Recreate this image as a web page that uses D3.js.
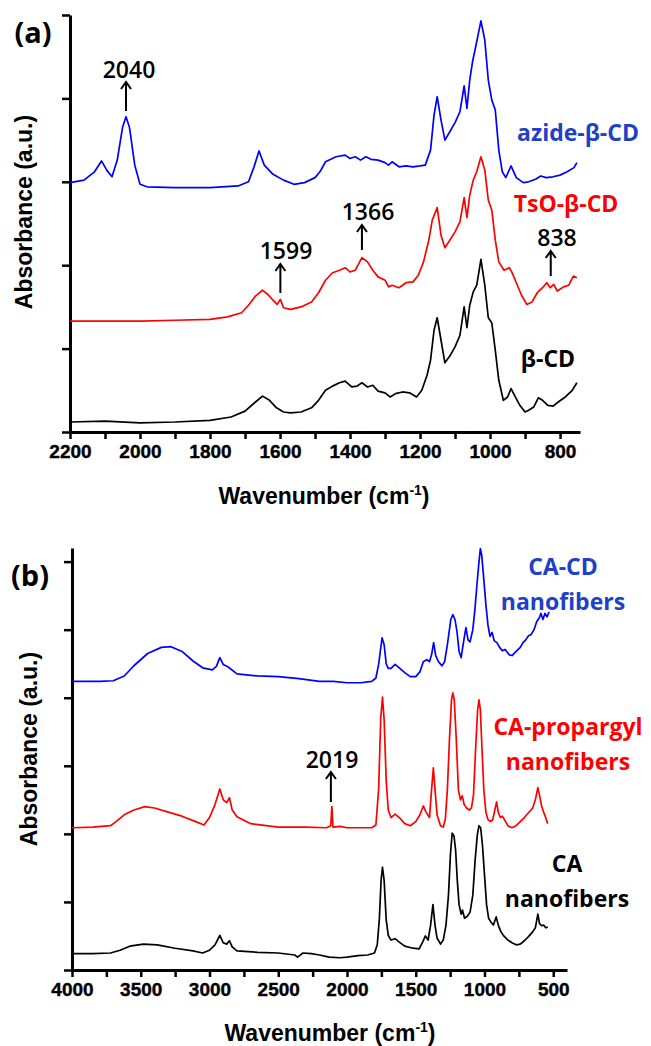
<!DOCTYPE html>
<html>
<head>
<meta charset="utf-8">
<script src="https://cdn.jsdelivr.net/npm/d3@7"></script>
<style>
  body { margin: 0; background: #fff; }
  .axis path, .axis line { stroke: #000; }
  .tickLbl { font-family: "Liberation Sans", Arial, sans-serif; font-weight: bold; font-size: 19px; stroke: #000; stroke-width: 0.4px; }
  .aTitle { font-family: "Liberation Sans", Arial, sans-serif; font-weight: bold; font-size: 23px; }
  .ann { font-family: "Open Sans", sans-serif; font-weight: 600; font-size: 23px; }
  .serLbl { font-family: "Open Sans", sans-serif; font-weight: bold; font-size: 23px; }
</style>
</head>
<body>
<div id="chart"></div>
<script>
// panel (a) spectra: [wavenumber, absorbance a.u.]
var azideCD = [[2200,2.99],[2160,3.02],[2130,3.12],[2110,3.25],[2095,3.14],[2080,3.06],[2065,3.26],[2050,3.65],[2040,3.78],[2030,3.65],[2015,3.20],[2000,2.97],[1980,2.94],[1900,2.93],[1800,2.93],[1720,2.95],[1690,3.00],[1675,3.17],[1660,3.37],[1645,3.20],[1620,3.09],[1590,3.02],[1560,2.97],[1530,2.99],[1500,3.05],[1486,3.12],[1470,3.24],[1440,3.30],[1414,3.32],[1400,3.28],[1385,3.30],[1370,3.26],[1355,3.30],[1340,3.27],[1320,3.26],[1300,3.23],[1290,3.20],[1280,3.24],[1260,3.18],[1240,3.19],[1220,3.18],[1200,3.19],[1185,3.20],[1170,3.38],[1160,3.80],[1151,4.02],[1140,3.74],[1129,3.50],[1115,3.60],[1100,3.71],[1086,3.84],[1074,4.15],[1066,3.88],[1058,4.22],[1050,4.44],[1040,4.64],[1026,4.93],[1015,4.70],[1005,4.22],[995,3.98],[985,3.86],[975,3.38],[965,3.12],[955,3.05],[940,3.19],[925,3.05],[905,2.99],[890,3.00],[870,3.03],[855,3.07],[840,3.05],[820,3.06],[800,3.08],[780,3.12],[760,3.17],[752,3.23]];

var tsoCD = [[2200,1.33],[2100,1.33],[2000,1.33],[1900,1.34],[1800,1.35],[1750,1.38],[1710,1.43],[1690,1.52],[1670,1.63],[1650,1.70],[1635,1.65],[1620,1.58],[1608,1.53],[1599,1.59],[1590,1.49],[1570,1.47],[1540,1.50],[1510,1.56],[1490,1.67],[1470,1.82],[1450,1.91],[1430,1.94],[1414,1.97],[1400,1.92],[1385,1.94],[1366,2.09],[1350,2.04],[1335,1.94],[1320,1.86],[1300,1.82],[1290,1.74],[1280,1.76],[1260,1.73],[1240,1.79],[1220,1.80],[1205,1.88],[1190,2.04],[1175,2.30],[1165,2.54],[1151,2.69],[1140,2.36],[1129,2.21],[1115,2.30],[1100,2.40],[1086,2.52],[1074,2.81],[1066,2.57],[1058,2.84],[1048,3.02],[1038,3.12],[1026,3.30],[1015,3.14],[1005,2.78],[995,2.66],[985,2.30],[975,2.04],[960,1.94],[945,1.97],[938,1.92],[925,1.79],[910,1.64],[895,1.53],[880,1.56],[865,1.67],[850,1.73],[838,1.79],[828,1.73],[818,1.77],[808,1.69],[790,1.74],[775,1.76],[762,1.87],[752,1.85]];

var betaCD = [[2200,0.12],[2100,0.13],[2000,0.11],[1900,0.12],[1800,0.14],[1740,0.18],[1700,0.25],[1670,0.36],[1650,0.43],[1630,0.38],[1610,0.29],[1590,0.24],[1570,0.23],[1540,0.24],[1510,0.29],[1490,0.38],[1470,0.50],[1450,0.55],[1430,0.59],[1414,0.61],[1395,0.54],[1380,0.55],[1366,0.59],[1350,0.54],[1335,0.56],[1320,0.49],[1300,0.47],[1285,0.42],[1270,0.46],[1250,0.48],[1230,0.47],[1210,0.42],[1195,0.50],[1180,0.68],[1170,0.86],[1160,1.22],[1151,1.37],[1140,1.10],[1129,0.83],[1115,0.91],[1100,1.02],[1086,1.16],[1074,1.50],[1066,1.25],[1058,1.52],[1048,1.68],[1038,1.76],[1026,2.07],[1015,1.76],[1005,1.37],[995,1.31],[985,0.98],[975,0.62],[962,0.38],[950,0.42],[940,0.52],[930,0.44],[915,0.32],[900,0.24],[890,0.26],[875,0.30],[862,0.41],[850,0.38],[835,0.32],[820,0.31],[805,0.36],[785,0.42],[765,0.50],[752,0.59]];

// panel (b) spectra
var caCD = [[4000,4.24],[3800,4.24],[3700,4.25],[3620,4.32],[3550,4.47],[3450,4.65],[3350,4.74],[3280,4.75],[3200,4.68],[3120,4.54],[3050,4.44],[2980,4.41],[2950,4.46],[2925,4.59],[2900,4.49],[2870,4.46],[2850,4.43],[2800,4.35],[2650,4.32],[2500,4.31],[2350,4.28],[2200,4.24],[2100,4.24],[2000,4.22],[1900,4.22],[1820,4.24],[1790,4.29],[1770,4.49],[1745,4.88],[1730,4.78],[1715,4.50],[1700,4.43],[1680,4.43],[1650,4.49],[1620,4.44],[1580,4.37],[1540,4.31],[1500,4.31],[1470,4.38],[1445,4.53],[1420,4.56],[1400,4.53],[1385,4.63],[1370,4.81],[1355,4.62],[1335,4.53],[1310,4.47],[1290,4.53],[1270,4.78],[1245,5.15],[1230,5.22],[1215,5.15],[1200,4.97],[1185,4.68],[1170,4.59],[1150,4.85],[1135,5.03],[1120,4.85],[1105,4.82],[1085,5.00],[1070,5.29],[1055,5.66],[1040,6.00],[1030,6.19],[1020,6.09],[1005,5.74],[990,5.37],[975,5.07],[960,4.90],[945,4.96],[930,4.84],[910,4.81],[890,4.74],[870,4.69],[850,4.71],[820,4.63],[800,4.62],[770,4.68],[740,4.74],[720,4.81],[700,4.85],[680,4.91],[660,4.93],[640,5.00],[620,5.12],[600,5.18],[590,5.24],[575,5.15],[560,5.24],[545,5.19],[530,5.26]];

var caPropargyl = [[4000,2.09],[3850,2.10],[3720,2.12],[3680,2.18],[3620,2.28],[3550,2.35],[3470,2.40],[3400,2.38],[3300,2.32],[3200,2.26],[3100,2.18],[3040,2.13],[3000,2.24],[2960,2.43],[2925,2.66],[2900,2.50],[2875,2.46],[2855,2.53],[2835,2.35],[2800,2.25],[2700,2.15],[2500,2.10],[2300,2.10],[2150,2.09],[2118,2.12],[2110,2.40],[2102,2.10],[2050,2.11],[2000,2.09],[1900,2.09],[1820,2.09],[1790,2.13],[1770,2.65],[1755,3.68],[1742,4.01],[1730,3.68],[1715,2.79],[1700,2.35],[1680,2.24],[1650,2.29],[1620,2.24],[1580,2.15],[1540,2.12],[1500,2.18],[1470,2.28],[1445,2.41],[1425,2.32],[1400,2.24],[1385,2.65],[1372,2.97],[1360,2.65],[1345,2.28],[1320,2.12],[1300,2.10],[1285,2.21],[1270,2.65],[1255,3.38],[1240,3.97],[1230,4.07],[1220,3.97],[1205,3.38],[1190,2.65],[1175,2.50],[1162,2.56],[1148,2.43],[1130,2.38],[1110,2.35],[1095,2.38],[1080,2.57],[1065,3.24],[1050,3.82],[1040,3.97],[1030,3.82],[1018,3.24],[1005,2.65],[990,2.32],[975,2.21],[955,2.18],[940,2.21],[925,2.35],[912,2.47],[900,2.32],[885,2.24],[870,2.26],[855,2.21],[830,2.12],[800,2.09],[770,2.12],[740,2.18],[710,2.24],[680,2.31],[650,2.38],[630,2.50],[612,2.68],[600,2.57],[585,2.41],[570,2.32],[555,2.24],[540,2.15]];

var caFib = [[4000,0.24],[3850,0.24],[3720,0.25],[3650,0.29],[3580,0.35],[3480,0.38],[3380,0.37],[3250,0.32],[3120,0.28],[3050,0.25],[3000,0.29],[2960,0.37],[2925,0.51],[2900,0.40],[2875,0.38],[2855,0.43],[2835,0.34],[2800,0.28],[2650,0.26],[2500,0.25],[2380,0.22],[2360,0.19],[2320,0.25],[2260,0.24],[2200,0.22],[2130,0.19],[2050,0.18],[2000,0.19],[1920,0.21],[1850,0.22],[1800,0.25],[1780,0.37],[1765,0.74],[1752,1.32],[1742,1.51],[1730,1.32],[1715,0.74],[1700,0.51],[1680,0.44],[1650,0.46],[1620,0.41],[1580,0.35],[1520,0.32],[1475,0.31],[1450,0.41],[1430,0.50],[1410,0.44],[1392,0.66],[1375,0.96],[1360,0.66],[1345,0.47],[1320,0.38],[1300,0.44],[1280,0.66],[1262,1.10],[1248,1.69],[1235,2.01],[1222,1.97],[1210,1.76],[1198,1.32],[1185,0.96],[1170,0.82],[1160,0.88],[1145,0.76],[1125,0.79],[1105,0.85],[1085,1.10],[1068,1.62],[1052,1.99],[1040,2.12],[1028,2.09],[1015,1.84],[1000,1.40],[985,0.96],[970,0.76],[955,0.71],[935,0.66],[915,0.78],[900,0.66],[880,0.56],[860,0.50],[830,0.44],[800,0.40],[770,0.37],[740,0.38],[710,0.43],[680,0.49],[650,0.56],[630,0.62],[612,0.82],[600,0.68],[585,0.65],[570,0.66],[555,0.62],[540,0.63]];

// ticks
var aMajor = [2200, 2000, 1800, 1600, 1400, 1200, 1000, 800];
var aMinor = [2100, 1900, 1700, 1500, 1300, 1100, 900];
var aYTicks = [0, 1, 2, 3, 4, 5];
var bMajor = [4000, 3500, 3000, 2500, 2000, 1500, 1000, 500];
var bMinor = [3750, 3250, 2750, 2250, 1750, 1250, 750];
var bYTicks = [0, 1, 2, 3, 4, 5, 6];

var svg = d3.select("#chart").append("svg")
  .attr("width", 651)
  .attr("height", 1046);

// scales
var xa = d3.scaleLinear().domain([2200, 743]).range([70, 580]);
var ya = d3.scaleLinear().domain([0, 5]).range([432, 15]);
var xb = d3.scaleLinear().domain([4000, 400]).range([72, 567]);
var yb = d3.scaleLinear().domain([0, 6.2]).range([970, 548]);

function drawAxes(x, y, major, minor, yTicks, x0, y0) {
  var xg = svg.append("g").attr("class", "axis")
    .attr("transform", `translate(0, ${y0})`)
    .call(d3.axisBottom(x).tickValues(major.concat(minor)).tickSize(7).tickSizeOuter(0)
      .tickFormat(d => major.indexOf(d) >= 0 ? d : "").tickPadding(6));
  xg.select(".domain").attr("stroke-width", 3);
  xg.selectAll(".tick line").attr("stroke-width", 2.5);
  xg.selectAll(".tick text").attr("class", "tickLbl").attr("fill", "#000");

  var yg = svg.append("g").attr("class", "axis")
    .attr("transform", `translate(${x0}, 0)`)
    .call(d3.axisLeft(y).tickValues(yTicks).tickSize(8).tickSizeOuter(0).tickFormat(""));
  yg.select(".domain").attr("stroke-width", 3);
  yg.selectAll(".tick line").attr("stroke-width", 2.5);
}

drawAxes(xa, ya, aMajor, aMinor, aYTicks, 70, 432);
drawAxes(xb, yb, bMajor, bMinor, bYTicks, 72, 970);

function drawLine(data, x, y, color) {
  var line = d3.line().x(d => x(d[0])).y(d => y(d[1]));
  svg.append("path")
    .datum(data)
    .attr("d", line)
    .attr("fill", "none")
    .attr("stroke", color)
    .attr("stroke-width", 1.7)
    .attr("stroke-linejoin", "round");
}

drawLine(betaCD, xa, ya, "#000");
drawLine(tsoCD, xa, ya, "#ff0000");
drawLine(azideCD, xa, ya, "#0000ff");
drawLine(caFib, xb, yb, "#000");
drawLine(caPropargyl, xb, yb, "#ff0000");
drawLine(caCD, xb, yb, "#0000ff");

// arrows with peak numbers
function arrow(x, yTail, yHead, label, lx, ly) {
  svg.append("path")
    .attr("d", `M${x},${yTail}V${yHead}M${x - 5},${yHead + 7}L${x},${yHead}L${x + 5},${yHead + 7}`)
    .attr("fill", "none").attr("stroke", "#000").attr("stroke-width", 2);
  svg.append("text").attr("class", "ann")
    .attr("x", lx).attr("y", ly).attr("text-anchor", "middle").text(label);
}
arrow(xa(2040), 111, 82, "2040", 129, 78);
arrow(xa(1599), 293, 264, "1599", 286, 259);
arrow(xa(1366), 250, 225, "1366", 368, 220);
arrow(xa(838) + 4, 276, 251, "838", 557, 246);
arrow(xb(2110) - 1, 802, 772, "2019", 332, 768);

// series labels
function label(lines, x, y, color) {
  var t = svg.append("text").attr("class", "serLbl")
    .attr("text-anchor", "middle").attr("fill", color);
  lines.forEach(function(s, i) {
    t.append("tspan").attr("x", x).attr("y", y + i * 35).text(s);
  });
}
label(["azide-β-CD"], 578, 141, "#2040c8");
label(["TsO-β-CD"], 566, 212, "#ff0000");
label(["β-CD"], 548, 367, "#000");
label(["CA-CD", "nanofibers"], 563, 575, "#2040c8");
label(["CA-propargyl", "nanofibers"], 568, 735, "#ff0000");
label(["CA", "nanofibers"], 567, 872, "#000");

// panel letters
svg.append("text").attr("class", "serLbl").style("font-size", "29px")
  .attr("x", 33).attr("y", 43).attr("text-anchor", "middle").text("(a)");
svg.append("text").attr("class", "serLbl").style("font-size", "29px")
  .attr("x", 30).attr("y", 586).attr("text-anchor", "middle").text("(b)");

// axis titles
function yTitle(cx, cy) {
  svg.append("text").attr("class", "aTitle")
    .attr("transform", `translate(${cx}, ${cy}) rotate(-90)`)
    .attr("text-anchor", "middle").text("Absorbance (a.u.)");
}
yTitle(32, 212);
yTitle(37, 749);

function xTitle(cx, by) {
  var t = svg.append("text").attr("class", "aTitle")
    .attr("x", cx).attr("y", by).attr("text-anchor", "middle");
  t.append("tspan").text("Wavenumber (cm");
  t.append("tspan").attr("dy", -9).style("font-size", "14px").text("-1");
  t.append("tspan").attr("dy", 9).text(")");
}
xTitle(324, 504);
xTitle(330, 1041);
</script>
</body>
</html>
